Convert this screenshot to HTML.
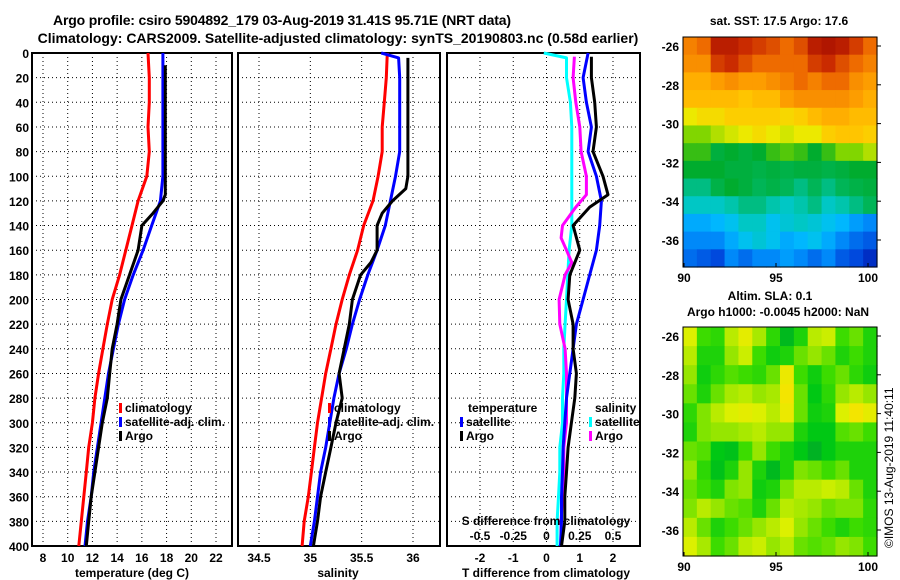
<!DOCTYPE html>
<html><head><meta charset="utf-8"><style>
html,body{margin:0;padding:0;background:#fff}
svg{display:block;font-family:"Liberation Sans",sans-serif;font-weight:bold}
</style></head><body>
<svg id="c" width="900" height="580">
<text x="282" y="25" font-size="14" text-anchor="middle" textLength="458">Argo profile: csiro 5904892_179 03-Aug-2019 31.41S 95.71E (NRT data)</text>
<text x="338" y="43" font-size="14" text-anchor="middle">Climatology: CARS2009. Satellite-adjusted climatology: synTS_20190803.nc (0.58d earlier)</text>
<text x="779" y="25" font-size="12" text-anchor="middle">sat. SST: 17.5 Argo: 17.6</text>
<text x="770" y="300" font-size="12" text-anchor="middle">Altim. SLA: 0.1</text>
<text x="778" y="316" font-size="12" text-anchor="middle">Argo h1000: -0.0045 h2000: NaN</text>
<text transform="translate(893,548) rotate(-90)" font-size="12" font-weight="normal">©IMOS 13-Aug-2019 11:40:11</text>
</svg>
<script>
const depths=[0,20,40,60,80,100,120,140,160,180,200,220,240,260,280,300,320,340,360,380,400];
const depthTicks=[0,20,40,60,80,100,120,140,160,180,200,220,240,260,280,300,320,340,360,380,400];
const tClim=[16.5,16.6,16.6,16.5,16.6,16.4,15.7,15.2,14.7,14.2,13.6,13.2,12.85,12.5,12.2,12.0,11.7,11.5,11.3,11.1,10.9];
const tSat=[17.7,17.7,17.7,17.7,17.7,17.7,17.5,16.8,16.1,15.3,14.6,14.1,13.7,13.3,13.0,12.7,12.4,12.1,11.9,11.6,11.4];
const tArgoDepth=[10,20,40,60,80,100,115,120,130,140,160,180,200,220,240,260,280,300,320,340,360,380,400];
const tArgo=[17.9,17.9,17.9,17.9,17.9,17.9,17.9,17.7,16.9,16.0,15.7,15.0,14.3,14.0,13.6,13.4,13.2,12.8,12.5,12.2,11.9,11.7,11.5];
const tTicks=[8,10,12,14,16,18,20,22];
const sClim=[35.75,35.74,35.72,35.70,35.70,35.66,35.61,35.52,35.46,35.38,35.31,35.25,35.20,35.15,35.11,35.07,35.04,35.01,34.98,34.94,34.92];
const sSatDepth=[0,4,20,40,60,80,100,120,140,160,180,200,220,240,260,280,300,320,340,360,380,400];
const sSat=[35.69,35.86,35.87,35.87,35.87,35.87,35.83,35.78,35.73,35.65,35.56,35.48,35.41,35.35,35.28,35.23,35.19,35.15,35.10,35.07,35.04,35.00];
const sArgoDepth=[4,20,40,60,80,100,110,120,130,140,160,170,180,200,220,240,260,280,300,320,340,360,380,400];
const sArgo=[35.95,35.95,35.95,35.95,35.95,35.95,35.93,35.80,35.70,35.65,35.65,35.59,35.49,35.41,35.38,35.33,35.28,35.31,35.25,35.20,35.15,35.10,35.07,35.03];
const sTicks=[34.5,35,35.5,36];
const sTickLabels=["34.5","35","35.5","36"];
const dTSat=[1.25,1.1,1.2,1.35,1.25,1.5,1.65,1.6,1.5,1.3,1.1,0.9,0.8,0.7,0.6,0.55,0.5,0.48,0.45,0.45,0.42];
const dTArgoDepth=[3,20,40,60,80,100,115,125,140,160,180,200,220,240,260,280,300,320,340,360,380,400];
const dTArgo=[1.35,1.35,1.45,1.5,1.4,1.7,1.85,1.3,0.8,1.0,0.7,0.65,0.8,0.8,0.9,0.85,0.75,0.65,0.6,0.55,0.55,0.45];
const dSSatDepth=[0,4,20,40,60,80,100,120,140,160,180,200,220,240,260,280,300,320,340,360,380,400];
const dSSat=[-0.02,0.15,0.15,0.18,0.19,0.19,0.19,0.19,0.19,0.17,0.16,0.15,0.14,0.13,0.13,0.12,0.12,0.1,0.1,0.09,0.08,0.08];
const dSArgoDepth=[3,20,40,60,80,100,115,125,140,150,160,170,180,200,220,240,260,280,300,320,340,360,380,400];
const dSArgo=[0.21,0.2,0.22,0.25,0.26,0.3,0.3,0.22,0.12,0.11,0.15,0.19,0.14,0.095,0.1,0.14,0.15,0.15,0.15,0.13,0.13,0.12,0.11,0.11];
const dTTicks=[-2,-1,0,1,2];
const dSTicks=[-0.5,-0.25,0,0.25,0.5];
const dSTickLabels=["-0.5","-0.25","0","0.25","0.5"];
const sstGrid=[
[.82,.85,.95,.95,.92,.9,.88,.85,.88,.95,.97,.95,.9,.85],
[.8,.8,.9,.92,.88,.85,.85,.85,.85,.9,.92,.88,.85,.82],
[.75,.75,.78,.8,.78,.78,.8,.82,.85,.82,.85,.85,.8,.78],
[.72,.72,.72,.72,.7,.72,.72,.78,.8,.8,.8,.8,.78,.75],
[.62,.65,.65,.68,.68,.68,.68,.66,.68,.72,.75,.75,.72,.72],
[.55,.55,.58,.6,.62,.65,.62,.6,.62,.62,.68,.7,.7,.68],
[.5,.5,.42,.45,.42,.45,.5,.52,.5,.45,.5,.55,.55,.58],
[.45,.45,.45,.42,.42,.4,.42,.4,.42,.42,.4,.42,.45,.45],
[.35,.35,.4,.45,.42,.38,.4,.38,.35,.38,.35,.38,.4,.42],
[.3,.3,.3,.32,.35,.35,.32,.3,.32,.35,.3,.32,.35,.38],
[.2,.2,.22,.25,.3,.3,.25,.28,.3,.28,.25,.22,.18,.15],
[.15,.15,.15,.2,.25,.28,.25,.2,.22,.25,.2,.15,.12,.1],
[.12,.1,.08,.15,.12,.15,.15,.18,.15,.12,.15,.1,.08,.05]];
const slaGrid=[
[.8,.4,.35,.7,.85,.65,.35,.1,.3,.7,.75,.4,.5,.3],
[.7,.3,.3,.6,.75,.4,.25,.3,.5,.6,.5,.3,.4,.3],
[.6,.25,.35,.45,.4,.35,.5,.9,.4,.25,.4,.5,.35,.25],
[.5,.3,.5,.65,.7,.6,.65,.95,.5,.2,.35,.6,.7,.6],
[.35,.55,.7,.8,.85,.8,.7,.9,.5,.25,.3,.8,.95,.85],
[.3,.55,.6,.6,.65,.7,.6,.6,.3,.2,.2,.45,.5,.4],
[.5,.45,.2,.15,.4,.6,.4,.3,.2,.05,.2,.3,.3,.3],
[.6,.35,.15,.3,.6,.3,.1,.3,.55,.5,.4,.5,.3,.3],
[.5,.4,.3,.55,.6,.25,.3,.55,.7,.7,.75,.7,.5,.3],
[.55,.7,.6,.5,.45,.3,.5,.7,.65,.6,.5,.55,.55,.35],
[.7,.5,.3,.4,.5,.6,.7,.8,.6,.5,.4,.3,.4,.35],
[.8,.65,.4,.5,.7,.75,.6,.7,.5,.45,.5,.6,.55,.4]];
const lonTicks=[90,95,100];
const latTicks=[-26,-28,-30,-32,-34,-36];

const svg=document.getElementById('c');
const NS='http://www.w3.org/2000/svg';
function mk(tag,attrs,parent){const e=document.createElementNS(NS,tag);for(const k in attrs)e.setAttribute(k,attrs[k]);(parent||svg).appendChild(e);return e;}
const Y0=53,Y1=546;
const yD=d=>Y0+(d/400)*(Y1-Y0);
function lin(d0,d1,r0,r1){return v=>r0+(v-d0)/(d1-d0)*(r1-r0);}

function panel(name,x0,x1,xs,ticks,labels,showDepth){
  const g=mk('g',{});
  
  
  ticks.forEach(t=>{const x=xs(t);const l=mk('line',{x1:x,x2:x,y1:Y0,y2:Y1,stroke:'#000','stroke-width':1,'stroke-dasharray':'1,3'},g);
    });
  depthTicks.forEach(d=>{const y=yD(d);const l=mk('line',{x1:x0,x2:x1,y1:y,y2:y,stroke:'#000','stroke-width':1,'stroke-dasharray':'1,3'},g);
    
    if(showDepth){const t=mk('text',{x:x0-3,y:y+5,'font-size':12,'text-anchor':'end'},g);t.textContent=d;
      }});
  if(labels){ticks.forEach((tk,i)=>{const t=mk('text',{x:xs(tk),y:562,'font-size':12,'text-anchor':'middle'},g);t.textContent=labels[i];
    });}
  const b=mk('rect',{x:x0,y:Y0,width:x1-x0,height:Y1-Y0,fill:'none',stroke:'#000','stroke-width':2},g);
  
  return g;
}
function series(g,name,xs,vals,ds,color){
  const pts=vals.map((v,i)=>xs(v).toFixed(1)+','+yD(ds[i]).toFixed(1)).join(' ');
  const p=mk('polyline',{points:pts,fill:'none',stroke:color,'stroke-width':3,'stroke-linejoin':'round'},g);
  
}
function txt(g,name,x,y,s,size,anchor){const t=mk('text',{x:x,y:y,'font-size':size||12,'text-anchor':anchor||'start'},g);t.textContent=s;
  return t;}
function legendEntry(g,name,x,y,color,label){
  const r=mk('rect',{x:x,y:y-9,width:3,height:10,fill:color},g);
  txt(g,name,x+6,y,label,12);
}

const xT=lin(8,22,43,216);
const g1=panel('temperature-panel',32,232,xT,tTicks,tTicks.map(String),true);
series(g1,'temperature-climatology-line',xT,tClim,depths,'#f00');
series(g1,'temperature-satellite-line',xT,tSat,depths,'#00f');
series(g1,'temperature-argo-line',xT,tArgo,tArgoDepth,'#000');
legendEntry(g1,'legend-climatology',119,412,'#f00','climatology');
legendEntry(g1,'legend-satellite',119,426,'#00f','satellite-adj. clim.');
legendEntry(g1,'legend-argo',119,440,'#000','Argo');
txt(g1,'x-axis-title-temperature',132,577,'temperature (deg C)',12,'middle');

const xS=lin(34.5,36,259,413);
const g2=panel('salinity-panel',238,440,xS,sTicks,sTickLabels,false);
series(g2,'salinity-climatology-line',xS,sClim,depths,'#f00');
series(g2,'salinity-satellite-line',xS,sSat,sSatDepth,'#00f');
series(g2,'salinity-argo-line',xS,sArgo,sArgoDepth,'#000');
legendEntry(g2,'legend-climatology-s',328,412,'#f00','climatology');
legendEntry(g2,'legend-satellite-s',328,426,'#00f','satellite-adj. clim.');
legendEntry(g2,'legend-argo-s',328,440,'#000','Argo');
txt(g2,'x-axis-title-salinity',338,577,'salinity',12,'middle');

const xDT=lin(-2,2,480,613);
const xDS=v=>xDT(v*4);
const g3=panel('difference-panel',447,640,xDT,dTTicks,dTTicks.map(String),false);
series(g3,'s-diff-satellite-line',xDS,dSSat,dSSatDepth,'#0ff');
series(g3,'s-diff-argo-line',xDS,dSArgo,dSArgoDepth,'#f0f');
series(g3,'t-diff-satellite-line',xDT,dTSat,depths,'#00f');
series(g3,'t-diff-argo-line',xDT,dTArgo,dTArgoDepth,'#000');
txt(g3,'legend-title-temperature',468,412,'temperature',12);
legendEntry(g3,'legend-t-satellite',460,426,'#00f','satellite');
legendEntry(g3,'legend-t-argo',460,440,'#000','Argo');
txt(g3,'legend-title-salinity',595,412,'salinity',12);
legendEntry(g3,'legend-s-satellite',589,426,'#0ff','satellite');
legendEntry(g3,'legend-s-argo',589,440,'#f0f','Argo');
txt(g3,'s-axis-title',546,525,'S difference from climatology',12,'middle');
dSTicks.forEach((v,i)=>txt(g3,'s-tick-label',xDS(v),540,dSTickLabels[i],12,'middle'));
txt(g3,'x-axis-title-difference',546,577,'T difference from climatology',12,'middle');

// colour ramps
function ramp(stops,v){v=Math.max(0,Math.min(1,v));const n=stops.length-1;const f=v*n;const i=Math.min(n-1,Math.floor(f));const t=f-i;
  const a=stops[i],b=stops[i+1];return `rgb(${a.map((x,k)=>Math.round(x+(b[k]-x)*t)).join(',')})`;}
const sstStops=[[0,0,150],[0,70,220],[0,140,250],[0,190,255],[0,200,190],[0,180,80],[0,170,40],[110,210,0],[235,235,0],[255,200,0],[255,165,0],[240,110,0],[200,40,0],[160,10,0]];
const slaStops=[[0,170,40],[0,200,20],[60,220,0],[150,230,0],[220,240,0],[250,225,0]];
function jet(v){return ramp(sstStops,v);}
function slaCol(v){return ramp(slaStops,v);}
function map(name,grid,colf,top,bot){
  const L=683,R=877;
  const g=mk('g',{});
  const rows=grid.length,cols=grid[0].length,cw=(R-L)/cols,ch=(bot-top)/rows;
  grid.forEach((row,i)=>row.forEach((v,j)=>{
    const r=mk('rect',{x:(L+j*cw).toFixed(2),y:(top+i*ch).toFixed(2),width:(cw+0.6).toFixed(2),height:(ch+0.6).toFixed(2),fill:colf(v)},g);
    }));
  const xl=lin(90,100,684,868),yl=lin(-26,-36,top+9,top+203);
  lonTicks.forEach(t=>{txt(g,'lon-tick-label',xl(t),bot+15,String(t),12,'middle');
    mk('line',{x1:xl(t),x2:xl(t),y1:bot,y2:bot-4,stroke:'#000'},g);});
  latTicks.forEach(t=>{txt(g,'lat-tick-label',L-4,yl(t)+5,String(t),12,'end');
    mk('line',{x1:R,x2:R+4,y1:yl(t),y2:yl(t),stroke:'#000'},g);});
  const b=mk('rect',{x:L,y:top,width:R-L,height:bot-top,fill:'none',stroke:'#000','stroke-width':1},g);
  
}
map('sst-map',sstGrid,jet,37,267);
map('sla-map',slaGrid,slaCol,327,556);
</script>
</body></html>
